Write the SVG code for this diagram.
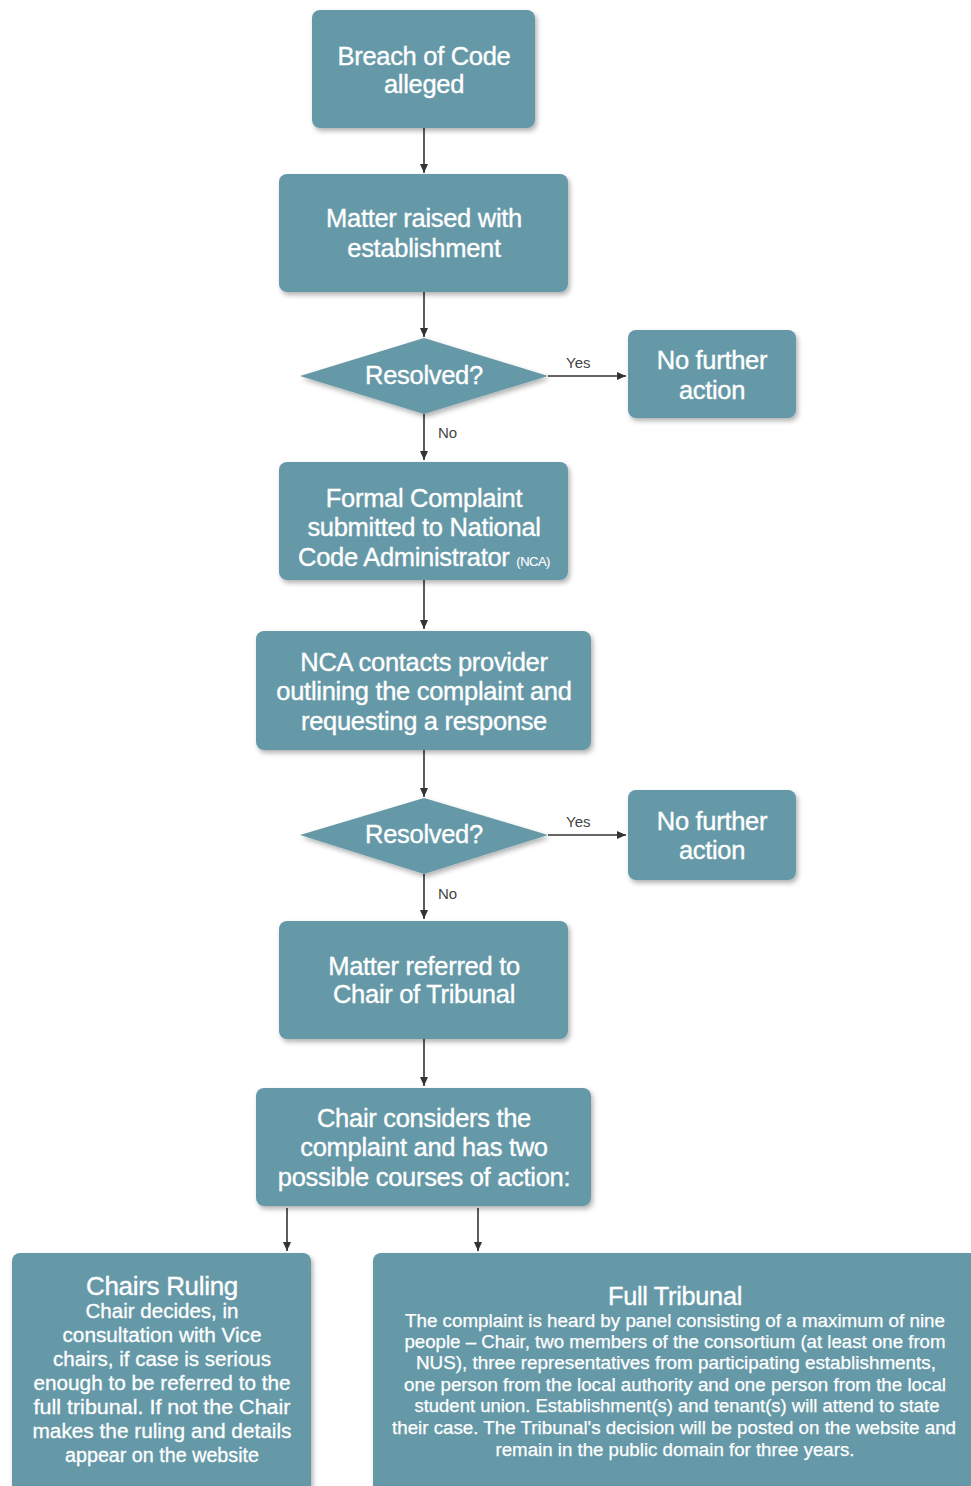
<svg xmlns="http://www.w3.org/2000/svg" width="971" height="1486" viewBox="0 0 971 1486">
<style>
.box{fill:#6699a8;filter:url(#sh);}
.t{font-family:"Liberation Sans",Arial,sans-serif;fill:#ffffff;stroke:#ffffff;stroke-width:0.35;text-anchor:middle;font-size:25.5px;letter-spacing:-0.3px;}
.s{font-size:20px;letter-spacing:0;stroke-width:0.3;}
.b{font-size:18px;letter-spacing:0;stroke-width:0.25;}
.lbl{font-family:"Liberation Sans",Arial,sans-serif;fill:#444;font-size:15px;}
.c{stroke:#333;stroke-width:1.6;fill:none;marker-end:url(#ah);}
</style>
<defs>
<filter id="sh" x="-10%" y="-10%" width="130%" height="130%">
<feDropShadow dx="2" dy="3" stdDeviation="2.5" flood-color="#000" flood-opacity="0.3"/>
</filter>
<marker id="ah" markerWidth="10" markerHeight="10" refX="9" refY="5" orient="auto" markerUnits="userSpaceOnUse">
<path d="M0,1 L9,5 L0,9 Z" fill="#333"/>
</marker>
</defs>
<rect width="971" height="1486" fill="#ffffff"/>
<g id="connectors">
<line class="c" x1="424" y1="128" x2="424" y2="173"/>
<line class="c" x1="424" y1="292" x2="424" y2="337"/>
<line class="c" x1="548" y1="376" x2="626" y2="376"/>
<line class="c" x1="424" y1="414" x2="424" y2="460"/>
<line class="c" x1="424" y1="580" x2="424" y2="629"/>
<line class="c" x1="424" y1="750" x2="424" y2="797"/>
<line class="c" x1="548" y1="835" x2="626" y2="835"/>
<line class="c" x1="424" y1="874" x2="424" y2="919"/>
<line class="c" x1="424" y1="1039" x2="424" y2="1086"/>
<line class="c" x1="287" y1="1208" x2="287" y2="1251"/>
<line class="c" x1="478" y1="1208" x2="478" y2="1251"/>
<text class="lbl" x="566" y="368">Yes</text>
<text class="lbl" x="438" y="438">No</text>
<text class="lbl" x="566" y="827">Yes</text>
<text class="lbl" x="438" y="899">No</text>
</g>
<g id="breach">
<rect class="box" x="312" y="10" width="223" height="118" rx="8"/>
<text class="t" x="424" y="65">Breach of Code</text>
<text class="t" x="424" y="93">alleged</text>
</g>
<g id="raised">
<rect class="box" x="279" y="174" width="289" height="118" rx="8"/>
<text class="t" x="424" y="227">Matter raised with</text>
<text class="t" x="424" y="257">establishment</text>
</g>
<g id="resolved1">
<polygon class="box" points="424,338 548,376 424,414 300,376"/>
<text class="t" x="424" y="384">Resolved?</text>
</g>
<g id="nfa1">
<rect class="box" x="628" y="330" width="168" height="88" rx="8"/>
<text class="t" x="712" y="369">No further</text>
<text class="t" x="712" y="399">action</text>
</g>
<g id="formal">
<rect class="box" x="279" y="462" width="289" height="118" rx="8"/>
<text class="t" x="424" y="507">Formal Complaint</text>
<text class="t" x="424" y="536">submitted to National</text>
<text class="t" x="424" y="566">Code Administrator <tspan font-size="13" letter-spacing="-0.5" stroke-width="0.1">(NCA)</tspan></text>
</g>
<g id="nca">
<rect class="box" x="256" y="631" width="335" height="119" rx="8"/>
<text class="t" x="424" y="671">NCA contacts provider</text>
<text class="t" x="424" y="700">outlining the complaint and</text>
<text class="t" x="424" y="730">requesting a response</text>
</g>
<g id="resolved2">
<polygon class="box" points="424,798 548,835 424,874 300,835"/>
<text class="t" x="424" y="843">Resolved?</text>
</g>
<g id="nfa2">
<rect class="box" x="628" y="790" width="168" height="90" rx="8"/>
<text class="t" x="712" y="830">No further</text>
<text class="t" x="712" y="859">action</text>
</g>
<g id="referred">
<rect class="box" x="279" y="921" width="289" height="118" rx="8"/>
<text class="t" x="424" y="975">Matter referred to</text>
<text class="t" x="424" y="1003">Chair of Tribunal</text>
</g>
<g id="considers">
<rect class="box" x="256" y="1088" width="335" height="118" rx="8"/>
<text class="t" x="424" y="1127">Chair considers the</text>
<text class="t" x="424" y="1156">complaint and has two</text>
<text class="t" x="424" y="1186">possible courses of action:</text>
</g>
<g id="ruling">
<rect class="box" x="12" y="1253" width="299" height="245" rx="8"/>
<text class="t" x="162" y="1295" textLength="152" lengthAdjust="spacingAndGlyphs">Chairs Ruling</text>
<text class="t s" x="162" y="1318" textLength="153" lengthAdjust="spacingAndGlyphs">Chair decides, in</text>
<text class="t s" x="162" y="1342" textLength="199" lengthAdjust="spacingAndGlyphs">consultation with Vice</text>
<text class="t s" x="162" y="1366" textLength="218" lengthAdjust="spacingAndGlyphs">chairs, if case is serious</text>
<text class="t s" x="162" y="1390" textLength="257" lengthAdjust="spacingAndGlyphs">enough to be referred to the</text>
<text class="t s" x="162" y="1414" textLength="257" lengthAdjust="spacingAndGlyphs">full tribunal. If not the Chair</text>
<text class="t s" x="162" y="1438" textLength="259" lengthAdjust="spacingAndGlyphs">makes the ruling and details</text>
<text class="t s" x="162" y="1462" textLength="194" lengthAdjust="spacingAndGlyphs">appear on the website</text>
</g>
<g id="tribunal">
<rect class="box" x="373" y="1253" width="610" height="245" rx="8"/>
<text class="t" x="675" y="1305" textLength="134" lengthAdjust="spacingAndGlyphs">Full Tribunal</text>
<text class="t b" x="675" y="1327" textLength="540" lengthAdjust="spacingAndGlyphs">The complaint is heard by panel consisting of a maximum of nine</text>
<text class="t b" x="675" y="1348" textLength="541" lengthAdjust="spacingAndGlyphs">people – Chair, two members of the consortium (at least one from</text>
<text class="t b" x="676" y="1369" textLength="520" lengthAdjust="spacingAndGlyphs">NUS), three representatives  from participating establishments,</text>
<text class="t b" x="675" y="1391" textLength="542" lengthAdjust="spacingAndGlyphs">one person from the local authority and one person from the local</text>
<text class="t b" x="677" y="1412" textLength="525" lengthAdjust="spacingAndGlyphs">student union. Establishment(s) and tenant(s) will attend to state</text>
<text class="t b" x="674" y="1434" textLength="564" lengthAdjust="spacingAndGlyphs">their case. The Tribunal's decision will be posted on the website and</text>
<text class="t b" x="675" y="1456" textLength="359" lengthAdjust="spacingAndGlyphs">remain in the public domain for three years.</text>
</g>
</svg>
